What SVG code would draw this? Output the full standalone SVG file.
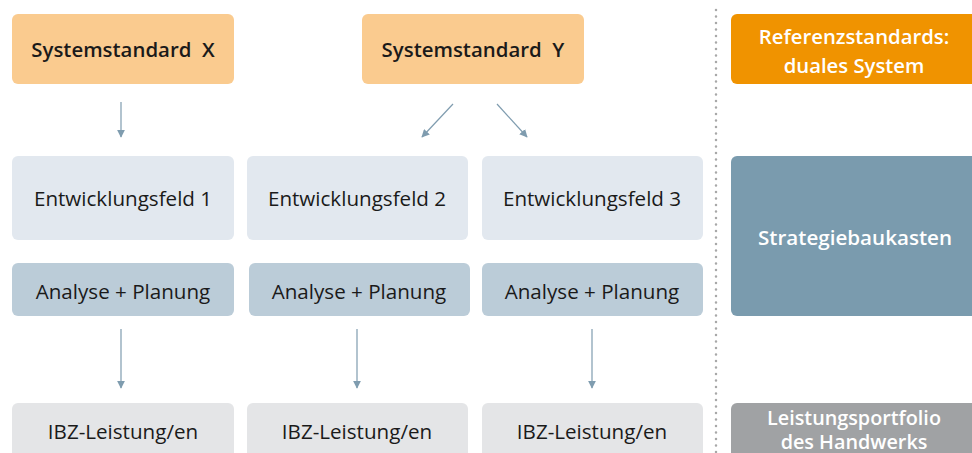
<svg xmlns="http://www.w3.org/2000/svg" width="972" height="453" viewBox="0 0 972 453">
<defs>
<style>
.t{font-family:"Open Sans","Noto Sans",sans-serif;font-size:20.6px;fill:#1a1a1a;text-anchor:middle}
.b{font-weight:600;font-size:20.4px}
.w{font-family:"Open Sans","Noto Sans",sans-serif;font-size:20.3px;font-weight:600;fill:#ffffff;text-anchor:middle}
.sys{fill:#FACB8F}
.ent{fill:#E2E8EF}
.ana{fill:#BBCCD8}
.ibz{fill:#E4E5E7}
.con{stroke:#7F9CAF;stroke-width:1.2;fill:none;marker-end:url(#ah)}
</style>
<marker id="ah" viewBox="0 0 10 10" refX="9" refY="5" markerWidth="8" markerHeight="8" markerUnits="userSpaceOnUse" orient="auto">
<path d="M0,0 L10,5 L0,10 z" fill="#7F9CAF"/>
</marker>
</defs>
<rect width="972" height="453" fill="#ffffff"/>
<line x1="716" y1="10" x2="716" y2="453" stroke="#A8A8A8" stroke-width="2.5" stroke-dasharray="0 6.5" stroke-linecap="round"/>
<g id="sysX"><rect class="sys" x="12" y="14" width="222" height="70" rx="6"/><text class="t b" x="123" y="57" xml:space="preserve">Systemstandard  X</text></g>
<g id="sysY"><rect class="sys" x="362" y="14" width="222" height="70" rx="6"/><text class="t b" x="473" y="57" xml:space="preserve">Systemstandard  Y</text></g>
<g id="ref"><rect x="731" y="14" width="250" height="70" rx="6" fill="#F09300"/><text class="w" x="854" y="44">Referenzstandards:</text><text class="w" x="854" y="73">duales System</text></g>
<g id="ent1"><rect class="ent" x="12" y="156" width="222" height="84" rx="6"/><text class="t" x="123" y="206">Entwicklungsfeld 1</text></g>
<g id="ent2"><rect class="ent" x="247" y="156" width="221" height="84" rx="6"/><text class="t" x="357" y="206">Entwicklungsfeld 2</text></g>
<g id="ent3"><rect class="ent" x="482" y="156" width="221" height="84" rx="6"/><text class="t" x="592" y="206">Entwicklungsfeld 3</text></g>
<g id="strat"><rect x="731" y="156" width="250" height="160" rx="6" fill="#7A9BAE"/><text class="w" x="855" y="245" style="font-size:20.6px">Strategiebaukasten</text></g>
<g id="ana1"><rect class="ana" x="12" y="263" width="222" height="53" rx="6"/><text class="t" x="123" y="299">Analyse + Planung</text></g>
<g id="ana2"><rect class="ana" x="249" y="263" width="221" height="53" rx="6"/><text class="t" x="359" y="299">Analyse + Planung</text></g>
<g id="ana3"><rect class="ana" x="482" y="263" width="221" height="53" rx="6"/><text class="t" x="592" y="299">Analyse + Planung</text></g>
<g id="ibz1"><rect class="ibz" x="12" y="403" width="222" height="60" rx="6"/><text class="t" x="123" y="439">IBZ-Leistung/en</text></g>
<g id="ibz2"><rect class="ibz" x="247" y="403" width="221" height="60" rx="6"/><text class="t" x="357" y="439">IBZ-Leistung/en</text></g>
<g id="ibz3"><rect class="ibz" x="482" y="403" width="221" height="60" rx="6"/><text class="t" x="592" y="439">IBZ-Leistung/en</text></g>
<g id="port"><rect x="731" y="403" width="250" height="60" rx="6" fill="#A0A2A4"/><text class="w" x="854" y="425" style="font-size:19.8px">Leistungsportfolio</text><text class="w" x="854" y="449" style="font-size:19.8px">des Handwerks</text></g>
<g id="connectors">
<line class="con" x1="121" y1="102" x2="121" y2="137"/>
<line class="con" x1="453" y1="104" x2="422" y2="137"/>
<line class="con" x1="497" y1="104" x2="527" y2="137"/>
<line class="con" x1="121" y1="329" x2="121" y2="388"/>
<line class="con" x1="357" y1="329" x2="357" y2="388"/>
<line class="con" x1="592" y1="329" x2="592" y2="388"/>
</g>
</svg>
